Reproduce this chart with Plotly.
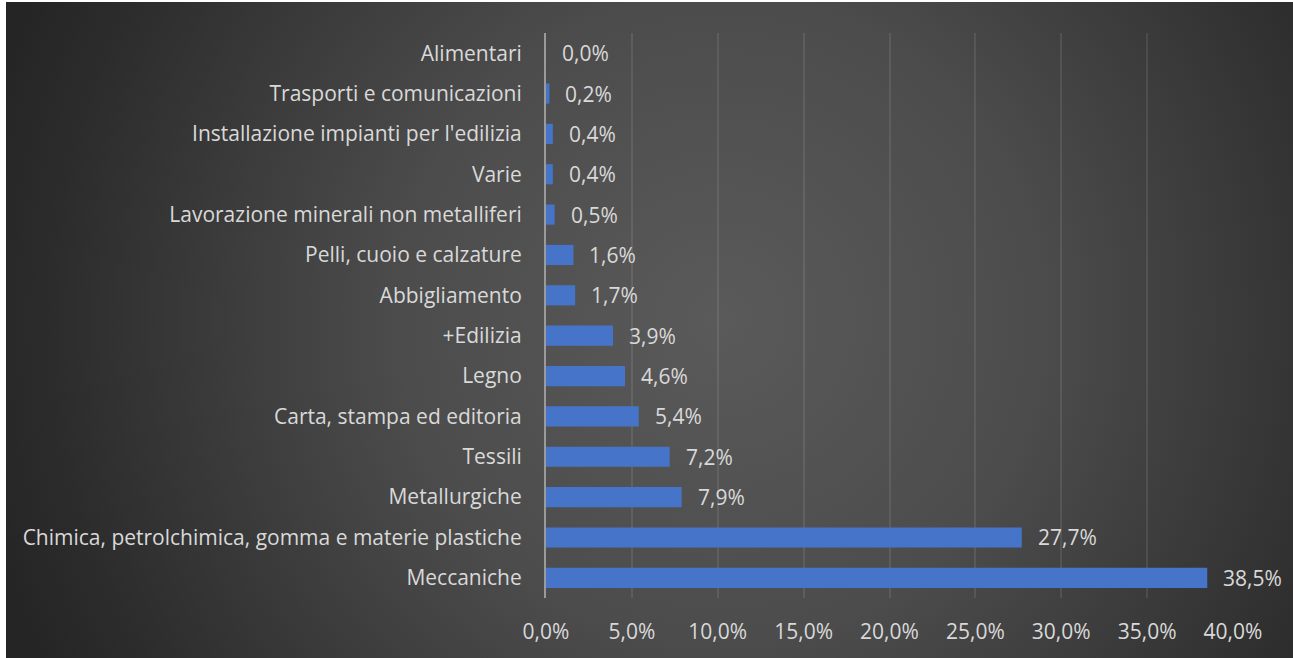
import base64
import plotly.graph_objects as go

# Sectors, top to bottom as drawn
sectors = [
    "Alimentari",
    "Trasporti e comunicazioni",
    "Installazione impianti per l'edilizia",
    "Varie",
    "Lavorazione minerali non metalliferi",
    "Pelli, cuoio e calzature",
    "Abbigliamento",
    "+Edilizia",
    "Legno",
    "Carta, stampa ed editoria",
    "Tessili",
    "Metallurgiche",
    "Chimica, petrolchimica, gomma e materie plastiche",
    "Meccaniche",
]
shares = [0.0, 0.2, 0.4, 0.4, 0.5, 1.6, 1.7, 3.9, 4.6, 5.4, 7.2, 7.9, 27.7, 38.5]
x_ticks = [0, 5, 10, 15, 20, 25, 30, 35, 40]
x_tick_labels = ["0,0%", "5,0%", "10,0%", "15,0%", "20,0%", "25,0%", "30,0%", "35,0%", "40,0%"]

W, H = 1293, 658
ML, MR, MT, MB = 546, 60, 33, 60
PW, PH = W - ML - MR, H - MT - MB

FONT = "Open Sans"
TXT = "#d9d9d9"
FS = 21

# Dark radial background with a thin white edge on the top/left
svg = f"""<svg xmlns='http://www.w3.org/2000/svg' width='{W}' height='{H}' viewBox='0 0 {W} {H}'>
<defs><radialGradient id='g' gradientUnits='userSpaceOnUse' cx='720' cy='320' r='760'>
<stop offset='0' stop-color='#5a5a5a'/>
<stop offset='0.42' stop-color='#4c4c4c'/>
<stop offset='0.88' stop-color='#2c2c2c'/>
<stop offset='1' stop-color='#252525'/>
</radialGradient></defs>
<rect x='0' y='0' width='{W}' height='{H}' fill='#ffffff'/>
<rect x='6' y='2' width='{W - 6}' height='{H - 2}' fill='url(#g)'/>
</svg>"""
bg_src = "data:image/svg+xml;base64," + base64.b64encode(svg.encode()).decode()

fig = go.Figure()
fig.add_trace(go.Bar(
    x=shares,
    y=sectors,
    orientation="h",
    width=0.5,
    marker=dict(color="#4674c8", line=dict(width=0)),
    hoverinfo="skip",
))

for s, v in zip(sectors, shares):
    fig.add_annotation(
        x=v, y=s, xref="x", yref="y",
        text=f"{v:.1f}".replace(".", ",") + "%",
        showarrow=False, xanchor="left", yanchor="middle", xshift=14,
        font=dict(family=FONT, size=FS, color=TXT),
    )

fig.add_layout_image(dict(
    source=bg_src, xref="paper", yref="paper",
    x=-ML / PW, y=1 + MT / PH, sizex=W / PW, sizey=H / PH,
    xanchor="left", yanchor="top", sizing="stretch", layer="below",
))

fig.update_layout(
    width=W, height=H,
    margin=dict(l=ML, r=MR, t=MT, b=MB, pad=0),
    paper_bgcolor="#ffffff",
    plot_bgcolor="rgba(0,0,0,0)",
    showlegend=False,
    separators=",.",
    font=dict(family=FONT, size=FS, color=TXT),
    bargap=0.5,
)
fig.update_xaxes(
    range=[0, 40], tickvals=x_ticks, ticktext=x_tick_labels,
    showgrid=True, gridcolor="rgba(255,255,255,0.09)", gridwidth=1.5,
    zeroline=False, showline=False, ticks="", ticklabelstandoff=19,
    tickfont=dict(family=FONT, size=FS, color=TXT), fixedrange=True,
)
fig.update_yaxes(
    autorange="reversed", showgrid=False, zeroline=False,
    showline=True, linecolor="#9a9a9a", linewidth=2,
    ticks="", ticklabelstandoff=18,
    tickfont=dict(family=FONT, size=FS, color=TXT), fixedrange=True,
)

fig.write_html("out.html", config={"displayModeBar": False})
